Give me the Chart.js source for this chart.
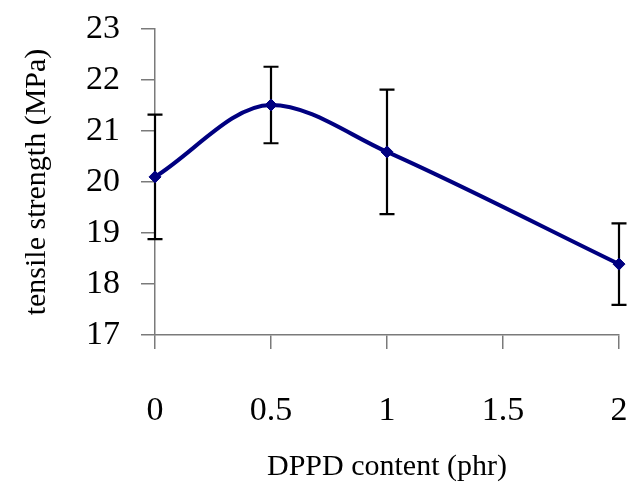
<!DOCTYPE html>
<html>
<head>
<meta charset="utf-8">
<script src="https://cdn.jsdelivr.net/npm/chart.js@4"></script>
<style>
  body { margin: 0; background: #fff; }
  #wrap { width: 632px; height: 485px; }
</style>
</head>
<body>
<div id="wrap"><canvas id="myChart" width="632" height="485"></canvas></div>
<script>
const DPPD_CONTENT = [0, 0.5, 1, 2]
const TENSILE_STRENGTH = [20.1, 21.51, 20.59, 18.39]
const STD_DEV = [1.22, 0.75, 1.22, 0.8]
const X_TICKS = ['0', '0.5', '1', '1.5', '2']

const FONT = "'Liberation Serif', 'Times New Roman', serif"
const AXIS_COLOR = '#7a7a7a'

/** errorBars: draws vertical error bars with caps for each point */
const errorBars = {
    id: 'errorBars',
    beforeDatasetsDraw(chart) {
        const ctx = chart.ctx;
        const xs = chart.scales.x;
        const ys = chart.scales.y;
        ctx.save();
        ctx.strokeStyle = '#000';
        ctx.lineWidth = 2.2;
        for (let i = 0; i < DPPD_CONTENT.length; i++) {
            const px = xs.getPixelForValue(DPPD_CONTENT[i]);
            const top = ys.getPixelForValue(TENSILE_STRENGTH[i] + STD_DEV[i]);
            const bot = ys.getPixelForValue(TENSILE_STRENGTH[i] - STD_DEV[i]);
            ctx.beginPath();
            ctx.moveTo(px, top);
            ctx.lineTo(px, bot);
            ctx.moveTo(px - 7.5, top);
            ctx.lineTo(px + 7.5, top);
            ctx.moveTo(px - 7.5, bot);
            ctx.lineTo(px + 7.5, bot);
            ctx.stroke();
        }
        ctx.restore();
    }
}

/** fixSize: fixes the scale size and drops the label overhang padding */
function fixSize(scale, w, h) {
    if (w) scale.width = w;
    if (h) scale.height = h;
    scale.paddingTop = 0;
    scale.paddingBottom = 0;
    scale.paddingLeft = 0;
    scale.paddingRight = 0;
}

const points = DPPD_CONTENT.map((x, i) => ({x: x, y: TENSILE_STRENGTH[i]}));

new Chart(document.getElementById('myChart'), {
    type: 'line',
    data: {
        datasets: [{
            data: points,
            borderColor: '#000080',
            backgroundColor: '#000080',
            borderWidth: 4,
            cubicInterpolationMode: 'monotone',
            pointStyle: 'rectRot',
            pointRadius: 6,
            pointBorderWidth: 1,
            clip: false
        }]
    },
    options: {
        responsive: false,
        animation: false,
        layout: {
            padding: {top: 29, right: 13, left: 0, bottom: 0}
        },
        plugins: {
            legend: {display: false},
            tooltip: {enabled: false}
        },
        scales: {
            x: {
                type: 'linear',
                min: 0,
                max: 2,
                afterFit: (scale) => fixSize(scale, 0, 150),
                afterBuildTicks: (scale) => {
                    scale.ticks = X_TICKS.map(t => ({value: parseFloat(t)}));
                },
                ticks: {
                    callback: (v, i) => X_TICKS[i],
                    color: '#000',
                    font: {family: FONT, size: 34},
                    padding: 42,
                    maxRotation: 0
                },
                grid: {
                    drawOnChartArea: false,
                    tickLength: 14,
                    color: AXIS_COLOR,
                    lineWidth: 1.5
                },
                border: {color: AXIS_COLOR, width: 1.5},
                title: {
                    display: true,
                    text: 'DPPD content (phr)',
                    color: '#000',
                    font: {family: FONT, size: 30},
                    padding: {top: 1, bottom: 0}
                }
            },
            y: {
                min: 17,
                max: 23,
                afterFit: (scale) => fixSize(scale, 155, 0),
                ticks: {
                    stepSize: 1,
                    color: '#000',
                    font: {family: FONT, size: 34},
                    padding: 21
                },
                grid: {
                    drawOnChartArea: false,
                    tickLength: 14,
                    color: AXIS_COLOR,
                    lineWidth: 1.5
                },
                border: {color: AXIS_COLOR, width: 1.5},
                title: {
                    display: true,
                    text: 'tensile strength (MPa)',
                    color: '#000',
                    font: {family: FONT, size: 30},
                    padding: {top: 19, bottom: 0}
                }
            }
        }
    },
    plugins: [errorBars]
});
</script>
</body>
</html>
